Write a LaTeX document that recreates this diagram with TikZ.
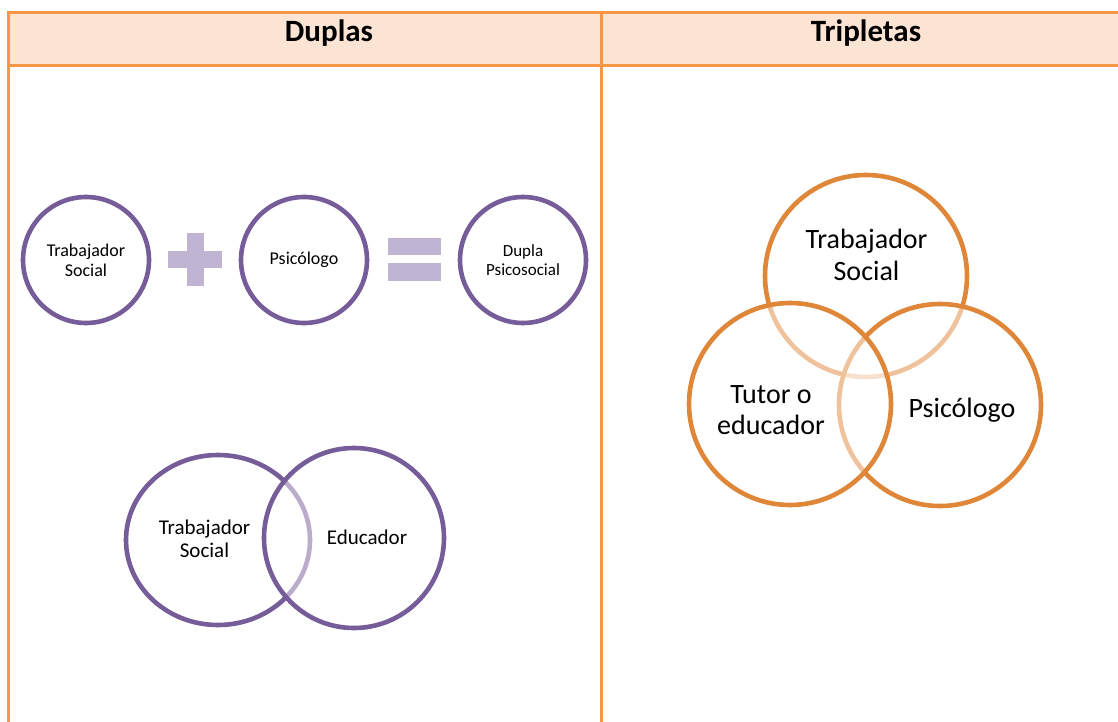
\documentclass[tikz,border=0pt]{standalone}
\usepackage{fontspec}
\setmainfont{Carlito}
\usetikzlibrary{shapes.geometric}
\definecolor{tableorange}{RGB}{247,150,70}
\definecolor{headerpeach}{RGB}{252,228,213}
\definecolor{duopurple}{RGB}{118,92,152}
\definecolor{signlilac}{RGB}{191,181,210}
\definecolor{trioorange}{RGB}{224,134,56}

\tikzset{
  tablerule/.style={draw=tableorange, line width=3pt},
  headtext/.style={anchor=base, font=\fontsize{31}{31}\selectfont\bfseries},
  duo/.style={circle, draw=duopurple, line width=4.6pt, inner sep=0pt, minimum size=126pt, align=center},
  trio/.style={circle, draw=trioorange, line width=4.6pt, inner sep=0pt, minimum size=202pt},
  veil/.style={fill=white, fill opacity=0.5, text opacity=1},
  venntext/.style={align=center, font=\fontsize{21}{22.5}\selectfont},
  triotext/.style={align=center, font=\fontsize{28}{31.5}\selectfont}
}

\begin{document}
\begin{tikzpicture}[x=1pt, y=-1pt]
  \useasboundingbox (0,0) rectangle (1118,722);
  % table
  \fill[headerpeach] (8,13) rectangle (1118,66);
  \draw[tablerule] (8,13) -- (1118,13);
  \draw[tablerule] (8,66) -- (1118,66);
  \draw[tablerule] (8,11.5) -- (8,722);
  \draw[tablerule] (601,11.5) -- (601,722);
  \node[headtext] (hduo) at (329,41.5) {Duplas};
  \node[headtext] (htrio) at (866,41.5) {Tripletas};

  % duplas, first row
  \node[duo, font=\fontsize{18}{20}\selectfont] (ts) at (86,260) {Trabajador\\Social};
  \node[duo, font=\fontsize{18}{20}\selectfont] (ps) at (304,260) {Psicólogo};
  \node[duo, font=\fontsize{17}{19}\selectfont] (dp) at (523,260) {Dupla\\Psicosocial};
  \fill[signlilac] (168,251) rectangle (222,268);
  \fill[signlilac] (187,233) rectangle (204,286);
  \fill[signlilac] (388,238) rectangle (441,255);
  \fill[signlilac] (388,263) rectangle (441,281);

  % duplas, venn
  \node[ellipse, draw=duopurple, line width=4.6pt, minimum width=184pt, minimum height=170pt] (tsv) at (218,540) {};
  \node[duo, veil, minimum size=180pt] (edu) at (354,538) {};
  \node[venntext] (tsvtext) at (204.5,539) {Trabajador\\Social};
  \node[venntext] (edutext) at (367,537) {Educador};

  % tripletas
  \node[trio] (tts) at (866,276) {};
  \node[trio, veil] (tps) at (940,405) {};
  \node[trio, veil] (tte) at (790,404) {};
  \node[triotext] (ttstext) at (866.5,255) {Trabajador\\Social};
  \node[triotext] (ttetext) at (771,410) {Tutor o\\educador};
  \node[triotext] (tpstext) at (962,410) {Psicólogo};
\end{tikzpicture}
\end{document}
